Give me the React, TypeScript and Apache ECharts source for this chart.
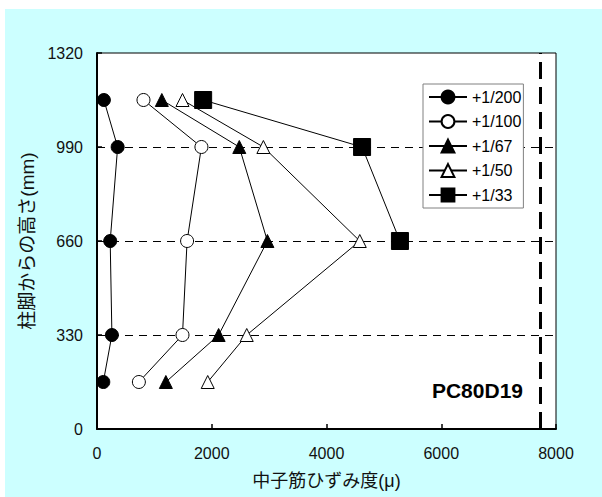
import React, { useEffect, useRef } from "react";
import * as echarts from "echarts";

const heights = [1155, 990, 660, 330, 165];
const heights33 = [1155, 990, 660];
const s200 = [120, 360, 230, 260, 110];
const s100 = [810, 1820, 1570, 1490, 730];
const s67 = [1130, 2480, 2970, 2120, 1200];
const s50 = [1490, 2900, 4580, 2610, 1930];
const s33 = [1850, 4620, 5280];
const seriesNames = ["+1/200", "+1/100", "+1/67", "+1/50", "+1/33"];
const gridHeights = [330, 660, 990];
const limitStrain = 7720;
const specimen = "PC80D19";
const xTitle = "中子筋ひずみ度(μ)";
const yTitle = "柱脚からの高さ(mm)";

const pairs = (xs: number[], ys: number[]) => xs.map((x, i) => [x, ys[i]]);

export default function App() {
  const ref = useRef<HTMLDivElement>(null);
  useEffect(() => {
    if (!ref.current) return;
    const chart = echarts.init(ref.current, null, { renderer: "svg" });
    const num = "Liberation Sans, Arial, sans-serif";
    const cjk = "Liberation Sans, 'Noto Sans CJK JP', sans-serif";
    const filled = (symbol: string, size: number) => ({
      symbol,
      symbolSize: size,
      itemStyle: { color: "#000", borderColor: "#000", borderWidth: 1 },
    });
    const open = (symbol: string, size: number) => ({
      symbol,
      symbolSize: size,
      itemStyle: { color: "#fff", borderColor: "#000", borderWidth: 1 },
    });
    const base = {
      type: "line",
      lineStyle: { color: "#000", width: 1 },
      showAllSymbol: true,
    };
    chart.setOption({
      animation: false,
      backgroundColor: "#ccffff",
      grid: {
        left: 92,
        top: 44,
        right: 46,
        bottom: 68,
        show: true,
        backgroundColor: "#fff",
        borderColor: "#000",
        borderWidth: 1,
      },
      xAxis: {
        type: "value",
        min: 0,
        max: 8000,
        interval: 2000,
        name: xTitle,
        nameLocation: "middle",
        nameGap: 43,
        nameTextStyle: { fontFamily: cjk, fontSize: 18, color: "#111" },
        axisLine: { lineStyle: { color: "#000", width: 2 } },
        axisTick: { inside: true, length: 5, lineStyle: { color: "#000", width: 1.5 } },
        axisLabel: { fontFamily: num, fontSize: 16, color: "#111", margin: 16, formatter: (v: number) => String(v) },
        splitLine: { show: false },
      },
      yAxis: {
        type: "value",
        min: 0,
        max: 1320,
        interval: 330,
        name: yTitle,
        nameLocation: "middle",
        nameGap: 58,
        nameTextStyle: { fontFamily: cjk, fontSize: 19, color: "#111", padding: [0, 0, 0, 0] },
        axisLine: { lineStyle: { color: "#000", width: 2 } },
        axisTick: { inside: true, length: 5, lineStyle: { color: "#000", width: 1.5 } },
        axisLabel: { fontFamily: num, fontSize: 16, color: "#111", margin: 14, formatter: (v: number) => String(v) },
        splitLine: { show: false },
      },
      legend: {
        orient: "vertical",
        left: 418,
        top: 75,
        itemWidth: 38,
        itemHeight: 16,
        itemGap: 8.5,
        padding: [5, 2, 5, 5],
        backgroundColor: "#fff",
        borderColor: "#808080",
        borderWidth: 1,
        textStyle: { fontFamily: num, fontSize: 16, color: "#000" },
        data: seriesNames,
      },
      graphic: [
        {
          type: "text",
          right: 597 - 518,
          top: 371,
          style: {
            text: specimen,
            font: "bold 21px Liberation Sans, Arial, sans-serif",
            fill: "#000",
          },
        },
      ],
      series: [
        { ...base, name: seriesNames[0], data: pairs(s200, heights), ...filled("circle", 13), z: 5,
          markLine: {
            silent: true,
            symbol: "none",
            label: { show: false },
            lineStyle: { color: "#000", width: 1, type: [8, 6] },
            z: 1,
            data: gridHeights.map((h) => ({ yAxis: h })),
          },
        },
        { ...base, name: seriesNames[1], data: pairs(s100, heights), ...open("circle", 13), z: 5,
          markLine: {
            silent: true,
            symbol: "none",
            label: { show: false },
            lineStyle: { color: "#000", width: 3, type: [17, 8] },
            data: [{ xAxis: limitStrain }],
          },
        },
        { ...base, name: seriesNames[2], data: pairs(s67, heights), ...filled("triangle", 13), z: 5 },
        { ...base, name: seriesNames[3], data: pairs(s50, heights), ...open("triangle", 13), z: 5 },
        { ...base, name: seriesNames[4], data: pairs(s33, heights33), ...filled("rect", 17), z: 5 },
      ],
    });
    return () => chart.dispose();
  }, []);
  return (
    <div style={{ position: "fixed", left: 0, top: 0, width: 602, height: 497, background: "#fff" }}>
      <div ref={ref} style={{ position: "absolute", left: 5, top: 9, width: 597, height: 488 }} />
    </div>
  );
}
